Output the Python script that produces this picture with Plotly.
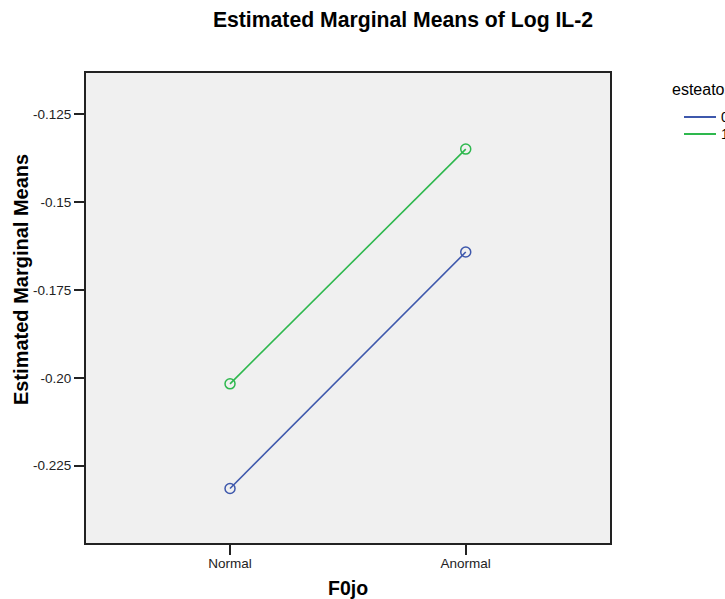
import plotly.graph_objects as go

categories = ["Normal", "Anormal"]
series_names = ["0", "1"]
series_values = [
    [-0.2315, -0.1642],
    [-0.2017, -0.1349],
]
series_colors = ["#3e58ac", "#2eb84e"]
ytick_vals = [-0.125, -0.15, -0.175, -0.20, -0.225]
ytick_text = ["-0.125", "-0.15", "-0.175", "-0.20", "-0.225"]
legend_title = "esteatosis"

W, H = 725, 599
L, R, T, B = 86, 610, 73, 543
FONT = "Liberation Sans, Arial, sans-serif"

fig = go.Figure()
for name, vals, col in zip(series_names, series_values, series_colors):
    fig.add_trace(go.Scatter(
        x=categories, y=vals, name=name, mode="lines+markers",
        line=dict(color=col, width=1.6),
        marker=dict(symbol="circle-open", size=10, color=col, line=dict(width=1.5, color=col)),
        showlegend=False,
    ))

def px_x(p):
    return (p - L) / (R - L)

def px_y(p):
    return (B - p) / (B - T)

annotations = [
    dict(text="<b>Estimated Marginal Means</b>", xref="paper", yref="paper",
         x=px_x(21), y=px_y(280), textangle=-90, showarrow=False,
         xanchor="center", yanchor="middle", font=dict(size=20, color="#000", family=FONT)),
    dict(text="<b>F0jo</b>", xref="paper", yref="paper",
         x=0.5, y=px_y(588), showarrow=False,
         xanchor="center", yanchor="middle", font=dict(size=19.5, color="#000", family=FONT)),
    dict(text=legend_title, xref="paper", yref="paper",
         x=px_x(670), y=px_y(89), showarrow=False,
         xanchor="left", yanchor="middle", font=dict(size=16, color="#000", family=FONT)),
]
shapes = []
for i, (name, col) in enumerate(zip(series_names, series_colors)):
    yy = 117 + 17 * i
    shapes.append(dict(type="line", xref="paper", yref="paper",
                       x0=px_x(684), x1=px_x(716), y0=px_y(yy), y1=px_y(yy),
                       line=dict(color=col, width=2)))
    annotations.append(dict(text=name, xref="paper", yref="paper",
                            x=px_x(719), y=px_y(yy), showarrow=False,
                            xanchor="left", yanchor="middle",
                            font=dict(size=14, color="#000", family=FONT)))

fig.update_layout(
    width=W, height=H,
    margin=dict(l=L, r=W - R, t=T, b=H - B, pad=0),
    paper_bgcolor="white",
    plot_bgcolor="#f0f0f0",
    font=dict(family=FONT, size=13.5, color="#000"),
    title=dict(text="<b>Estimated Marginal Means of Log IL-2</b>", xref="container", yref="container",
               x=403 / W, y=1 - 20 / H, xanchor="center", yanchor="middle",
               font=dict(size=21.2, color="#000", family=FONT)),
    annotations=annotations,
    shapes=shapes,
    xaxis=dict(
        type="category", range=[-0.611, 1.612], showgrid=False, zeroline=False,
        showline=True, linecolor="#222", linewidth=2, mirror=True,
        ticks="outside", ticklen=10, tickwidth=1.5, tickcolor="#222",
        ticklabelstandoff=-3,
        tickfont=dict(size=13.5, color="#222"),
    ),
    yaxis=dict(
        range=[-0.247, -0.11325], showgrid=False, zeroline=False,
        showline=True, linecolor="#222", linewidth=2, mirror=True,
        ticks="outside", ticklen=10, tickwidth=1.5, tickcolor="#222",
        tickvals=ytick_vals, ticktext=ytick_text,
        tickfont=dict(size=13.5, color="#222"),
    ),
)

fig.write_html("out.html")
